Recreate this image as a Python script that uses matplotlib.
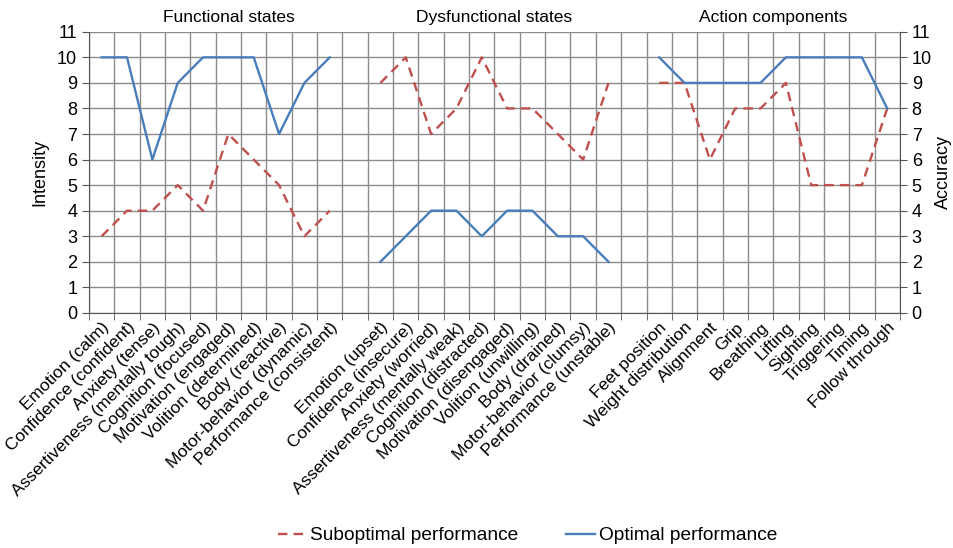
import matplotlib
matplotlib.use("Agg")
import matplotlib.pyplot as plt
import numpy as np

plt.rcParams['font.family'] = ['Liberation Sans', 'DejaVu Sans']

functional = ["Emotion (calm)", "Confidence (confident)", "Anxiety (tense)",
              "Assertiveness (mentally tough)", "Cognition (focused)",
              "Motivation (engaged)", "Volition (determined)", "Body (reactive)",
              "Motor-behavior (dynamic)", "Performance (consistent)"]
dysfunctional = ["Emotion (upset)", "Confidence (insecure)", "Anxiety (worried)",
                 "Assertiveness (mentally weak)", "Cognition (distracted)",
                 "Motivation (disengaged)", "Volition (unwilling)", "Body (drained)",
                 "Motor-behavior (clumsy)", "Performance (unstable)"]
action = ["Feet position", "Weight distribution", "Alignment", "Grip", "Breathing",
          "Lifting", "Sighting", "Triggering", "Timing", "Follow through"]
groups = ["Functional states", "Dysfunctional states", "Action components"]

func_sub = [3, 4, 4, 5, 4, 7, 6, 5, 3, 4]
func_opt = [10, 10, 6, 9, 10, 10, 10, 7, 9, 10]
dys_sub = [9, 10, 7, 8, 10, 8, 8, 7, 6, 9]
dys_opt = [2, 3, 4, 4, 3, 4, 4, 3, 3, 2]
act_sub = [9, 9, 6, 8, 8, 9, 5, 5, 5, 8]
act_opt = [10, 9, 9, 9, 9, 10, 10, 10, 10, 8]

red = "#C0504D"
blue = "#4A7EBB"
grid_c = "#8C8C8C"

# one empty category between groups
labels = functional + [""] + dysfunctional + [""] + action
n = len(labels)
starts = [0, len(functional) + 1, len(functional) + len(dysfunctional) + 2]
subs = [func_sub, dys_sub, act_sub]
opts = [func_opt, dys_opt, act_opt]

fig = plt.figure(figsize=(9.54, 5.48), dpi=100)
ax = fig.add_axes([0.0933, 0.429, 0.85, 0.513])

for i, (s, o) in enumerate(zip(subs, opts)):
    x = np.arange(starts[i], starts[i] + len(s))
    ax.plot(x, s, color=red, lw=1.7, dashes=(4, 2.6),
            label="Suboptimal performance" if i == 0 else None)
    ax.plot(x, o, color=blue, lw=1.7,
            label="Optimal performance" if i == 0 else None)
    ax.text(x.mean() + (0.5 if i == 0 else 0), 1.05, groups[i],
            transform=ax.get_xaxis_transform(), ha='center', va='center',
            fontsize=12.5)

ax.set_xlim(-0.5, n - 0.5)
ax.set_ylim(0, 11)
ax.set_yticks(range(0, 12))
ax.set_xticks(np.arange(n))
ax.set_xticklabels(labels, rotation=45, ha='right', rotation_mode='anchor',
                   fontsize=12.5)
ax.set_xticks(np.arange(-0.5, n), minor=True)
ax.tick_params(axis='x', which='major', length=0, pad=5)
ax.tick_params(axis='x', which='minor', length=5, color='#555555')
ax.tick_params(axis='y', labelsize=13, length=5, color='#555555')
ax.grid(True, axis='y', color=grid_c, lw=1)
ax.grid(True, axis='x', which='minor', color=grid_c, lw=1)
ax.set_axisbelow(True)
for sp in ['top', 'right']:
    ax.spines[sp].set_visible(False)
ax.spines['left'].set_color('#555555')
ax.spines['bottom'].set_color('#555555')
ax.set_ylabel("Intensity", fontsize=13, labelpad=6)

ax2 = ax.twinx()
ax2.set_ylim(0, 11)
ax2.set_yticks(range(0, 12))
ax2.tick_params(axis='y', labelsize=13, length=5, color='#555555')
for sp in ['top', 'left', 'bottom']:
    ax2.spines[sp].set_visible(False)
ax2.spines['right'].set_color('#555555')
ax2.set_ylabel("Accuracy", fontsize=13, labelpad=2)

fig.legend(loc='lower center', bbox_to_anchor=(0.553, -0.025), ncol=2,
           frameon=False, fontsize=13.8, handlelength=1.5, handletextpad=0.2,
           columnspacing=2.5)

fig.savefig("out.png", dpi=100)
